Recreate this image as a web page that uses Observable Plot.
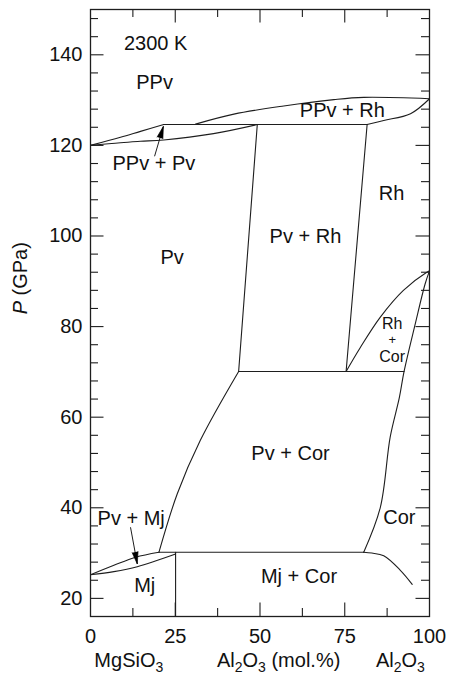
<!DOCTYPE html>
<html><head><meta charset="utf-8">
<script src="https://cdn.jsdelivr.net/npm/d3@7"></script>
<script src="https://cdn.jsdelivr.net/npm/@observablehq/plot@0.6"></script>
<style>html,body{margin:0;padding:0;background:#fff}svg{display:block}</style>
</head><body><div id="chart"></div>
<script>
// ---- data (x = Al2O3 mol.%, y = pressure GPa) ----
const xTickLabels = [0, 25, 50, 75, 100];
const xMajorTicks = [25, 50, 75];
const xMinorTicks = [12.5, 37.5, 62.5, 87.5];
const yTickLabels = [20, 40, 60, 80, 100, 120, 140];
const yMinorTicks = [24, 28, 32, 36, 44, 48, 52, 56, 64, 68, 72, 76, 84, 88, 92, 96, 104, 108, 112, 116, 124, 128, 132, 136, 144, 148];

const ppvPvUpper = [[0,120.0],[8.85,121.8],[14.75,123.1],[21.6,124.6]];
const ppvPvLower = [[0,120.0],[8.85,120.6],[14.75,120.9],[21.6,121.2],[36.3,122.6],[49.2,124.6]];
const line125 = [[21.6,124.6],[81.6,124.6]];
const ppvRhUpper = [[31.0,124.7],[42.3,126.9],[57.0,128.7],[71.8,130.1],[80.6,130.6],[100,130.3]];
const ppvRhLower = [[81.6,124.6],[86.5,125.5],[94.4,127.0],[100,130.3]];
const pvRhLeft = [[49.2,124.6],[43.7,70.1]];
const pvRhRight = [[81.6,124.6],[75.4,70.1]];
const line70 = [[43.7,70.1],[92.5,70.1]];
const rhCorUpper = [[75.4,70.1],[79.6,75.4],[85.5,82.1],[92.3,88.0],[99.2,92.0],[100,92.3]];
const corBoundary = [[80.6,30.2],[85.5,40.1],[88.4,55.6],[91.1,64.3],[92.5,70.1],[95.8,80.6],[98.7,89.4],[100,92.3]];
const pvCorLeft = [[20.2,30.2],[25.6,43.1],[32.4,54.9],[43.7,70.1]];
const pvMjUpper = [[0,25.2],[6.9,27.3],[13.3,29.1],[20.2,30.2]];
const pvMjLower = [[0,25.2],[6.9,25.9],[13.8,27.0],[25.1,29.8]];
const line30 = [[20.2,30.2],[80.6,30.2]];
const mjVertical = [[25.1,16],[25.1,30.2]];
const mjCorRight = [[80.6,30.2],[83.0,30.0],[86.5,29.4],[91.4,26.2],[94.9,23.1]];

const curved = [ppvPvUpper, ppvPvLower, ppvRhUpper, ppvRhLower, rhCorUpper, corBoundary, pvCorLeft, pvMjUpper, pvMjLower, mjCorRight];
const straight = [line125, pvRhLeft, pvRhRight, line70, line30, mjVertical];

const arrows = [
  {x1: 18.9, y1: 117.6, x2: 21.5, y2: 124.2},
  {x1: 11.8, y1: 35.7, x2: 13.8, y2: 27.6}
];

const regionLabels = [
  {text: "2300 K", x: 19.2, y: 142.5},
  {text: "PPv", x: 18.9, y: 133.8},
  {text: "PPv + Rh", x: 74.3, y: 127.7},
  {text: "PPv + Pv", x: 18.7, y: 115.9},
  {text: "Rh", x: 88.8, y: 109.4},
  {text: "Pv + Rh", x: 63.4, y: 99.9},
  {text: "Pv", x: 24.1, y: 95.2},
  {text: "Pv + Cor", x: 59.0, y: 51.9},
  {text: "Cor", x: 91.1, y: 37.8},
  {text: "Pv + Mj", x: 12.0, y: 37.6},
  {text: "Mj", x: 16.0, y: 22.8},
  {text: "Mj + Cor", x: 61.5, y: 24.7}
];
const smallLabels = [
  {text: "Rh", x: 89.0, y: 80.6},
  {text: "Cor", x: 89.0, y: 73.3}
];
const plusLabel = [{text: "+", x: 89.0, y: 77.0}];
const xAxisLabels = [
  {text: "MgSiO_3", x: 11.3},
  {text: "Al_2O_3 (mol.%)", x: 55.5},
  {text: "Al_2O_3", x: 91.4}
];
const yAxisLabel = [{text: "*P* (GPa)", y: 82.7}];

// ---- layout ----
const W = 449, H = 677, mL = 90, mR = 20, mT = 9, mB = 61;
const fW = W - mL - mR, fH = H - mT - mB;
const xDomain = [0, 100], yDomain = [16, 150];
const kx = fW / (xDomain[1] - xDomain[0]), ky = fH / (yDomain[1] - yDomain[0]);
const FONT = "'Liberation Sans', Arial, Helvetica, sans-serif";
const INK = "#1e1e1e";
const minorLen = 8, majorLen = 13.5;

const lineMarks = [
  ...curved.map(p => Plot.line(p, {x: d => d[0], y: d => d[1], curve: "catmull-rom", stroke: INK, strokeWidth: 1.1})),
  ...straight.map(p => Plot.line(p, {x: d => d[0], y: d => d[1], stroke: INK, strokeWidth: 1.1}))
];

const tickStyle = {stroke: INK, strokeWidth: 1.1};
const chart = Plot.plot({
  width: W, height: H, marginLeft: mL, marginRight: mR, marginTop: mT, marginBottom: mB,
  x: {domain: xDomain, axis: null},
  y: {domain: yDomain, axis: null},
  style: {fontFamily: FONT, background: "#fff", color: "#111"},
  marks: [
    // inward ticks
    Plot.tickX(xMinorTicks, {x: d => d, insetTop: fH - minorLen, ...tickStyle}),
    Plot.tickX(xMajorTicks, {x: d => d, insetTop: fH - majorLen, ...tickStyle}),
    Plot.tickX(xMinorTicks, {x: d => d, insetBottom: fH - minorLen, ...tickStyle}),
    Plot.tickX(xMajorTicks, {x: d => d, insetBottom: fH - majorLen, ...tickStyle}),
    Plot.tickY(yMinorTicks, {y: d => d, insetRight: fW - minorLen, ...tickStyle}),
    Plot.tickY(yTickLabels, {y: d => d, insetRight: fW - majorLen, ...tickStyle}),
    Plot.tickY(yMinorTicks, {y: d => d, insetLeft: fW - minorLen, ...tickStyle}),
    Plot.tickY(yTickLabels, {y: d => d, insetLeft: fW - majorLen, ...tickStyle}),
    // phase boundaries
    ...lineMarks,
    // arrows
    Plot.link(arrows, {x1: "x1", y1: "y1", x2: "x2", y2: "y2", stroke: INK, strokeWidth: 1}),
    Plot.vector(arrows, {x: "x2", y: "y2", anchor: "end", shape: "spike", length: 12, r: 3,
      rotate: d => Math.atan2((d.x2 - d.x1) * kx, (d.y2 - d.y1) * ky) * 180 / Math.PI,
      fill: "#000", stroke: "#000", strokeWidth: 0.6}),
    Plot.frame({stroke: INK, strokeWidth: 1.3}),
    // labels
    Plot.text(regionLabels, {x: "x", y: "y", text: "text", fontSize: 20, fill: "#111", lineAnchor: "middle"}),
    Plot.text(smallLabels, {x: "x", y: "y", text: "text", fontSize: 16, fill: "#111", lineAnchor: "middle"}),
    Plot.text(plusLabel, {x: "x", y: "y", text: "text", fontSize: 13, fill: "#111", lineAnchor: "middle"}),
    Plot.text(yTickLabels, {y: d => d, text: d => String(d), frameAnchor: "left", textAnchor: "end", dx: -8, fontSize: 20, fill: "#111", lineAnchor: "middle"}),
    Plot.text(xTickLabels, {x: d => d, text: d => String(d), frameAnchor: "bottom", dy: 20, fontSize: 20, fill: "#111", lineAnchor: "middle"}),
    Plot.text(xAxisLabels, {x: "x", text: "text", frameAnchor: "bottom", dy: 44, fontSize: 20, fill: "#111", lineAnchor: "middle"}),
    Plot.text(yAxisLabel, {y: "y", text: "text", frameAnchor: "left", dx: -70, rotate: -90, fontSize: 20, fill: "#111", lineAnchor: "middle"})
  ]
});

// rich text: "_c" = subscript char, "*...*" = italic
function rich(root) {
  const NS = "http://www.w3.org/2000/svg";
  root.querySelectorAll("text").forEach(t => {
    if (t.querySelector("tspan")) return;
    const s = t.textContent;
    if (!/[_*]/.test(s)) return;
    t.textContent = "";
    let italic = false, buf = "", pendingDy = 0;
    const add = (str, opts = {}) => {
      if (!str) return;
      const ts = document.createElementNS(NS, "tspan");
      ts.textContent = str;
      if (italic) ts.setAttribute("font-style", "italic");
      let dy = pendingDy + (opts.dy || 0);
      if (dy) ts.setAttribute("dy", dy);
      pendingDy = opts.back || 0;
      if (opts.size) ts.setAttribute("font-size", opts.size);
      t.appendChild(ts);
    };
    for (let i = 0; i < s.length; i++) {
      const c = s[i];
      if (c === "*") { add(buf); buf = ""; italic = !italic; continue; }
      if (c === "_") { add(buf); buf = ""; add(s[i + 1], {dy: 5, back: -5, size: 14}); i++; continue; }
      buf += c;
    }
    add(buf);
  });
}
rich(chart);
document.getElementById("chart").appendChild(chart);
</script>
</body></html>
